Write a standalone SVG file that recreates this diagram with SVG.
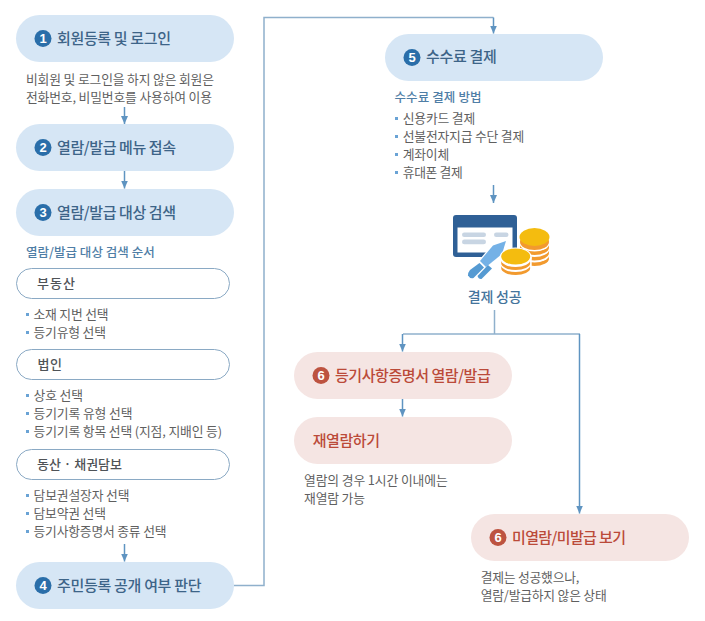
<svg xmlns="http://www.w3.org/2000/svg" width="705" height="621" viewBox="0 0 705 621">
<style>
text{font-family:"Noto Sans CJK KR","Noto Sans",sans-serif}
.pb{fill:#d6e6f5}.pr{fill:#f5e5e3}
.ol{fill:#fff;stroke:#8aa9c4;stroke-width:1}
.tb{font-size:15px;font-weight:500;fill:#3d6488}
.tr{font-size:15px;font-weight:500;fill:#bb4a39}
.ts{font-size:13px;font-weight:500;fill:#4f5357}
.sub{font-size:12.5px;font-weight:500;fill:#4f7ea6}
.d{font-size:12.800px;fill:#5f5f5f}
.bul{fill:#6aa3d5}
.nb{fill:#2a6ea9}.nr{fill:#bd5340}
.n{font-family:"Liberation Sans",sans-serif;font-size:13px;font-weight:700;fill:#fff;text-anchor:middle}
.c{fill:none;stroke:#8fb0cc;stroke-width:1.500}
.ca{fill:none;stroke:#5f94c1;stroke-width:1.500}
.co{fill:#f29a2e}.cw{fill:#fff}.cy{fill:#f4bc0f}
</style>
<defs>
<marker id="ah" markerUnits="userSpaceOnUse" markerWidth="9" markerHeight="7" refX="8" refY="3.500" orient="auto"><path d="M0 0L8 3.500L0 7z" fill="#5f94c1"/></marker>
</defs>
<g id="connectors">
<path class="ca" d="M124.500 107V124" marker-end="url(#ah)"/>
<path class="ca" d="M124.500 171V188.500" marker-end="url(#ah)"/>
<path class="ca" d="M124.500 544V561.500" marker-end="url(#ah)"/>
<path class="c" d="M234 585.500H264V17.500H493.500"/>
<path class="ca" d="M493.500 17.500V33.500" marker-end="url(#ah)"/>
<path class="ca" d="M493.500 185V203" marker-end="url(#ah)"/>
<path class="c" d="M494.500 310V334"/>
<path class="c" d="M403 334H580"/>
<path class="ca" d="M402.500 334V351.500" marker-end="url(#ah)"/>
<path class="ca" d="M402.500 399V416.500" marker-end="url(#ah)"/>
<path class="ca" d="M579.500 334V513.500" marker-end="url(#ah)"/>
</g>
<g id="node1"><rect class="pb" x="16" y="15" width="218" height="47" rx="23.500"/><circle class="nb" cx="43" cy="38.500" r="8.500"/><text class="n" x="43" y="43">1</text><text class="tb" x="57" y="43.500" textLength="114">회원등록 및 로그인</text>
<text class="d" x="26" y="84" textLength="188">비회원 및 로그인을 하지 않은 회원은</text><text class="d" x="26" y="102" textLength="186">전화번호, 비밀번호를 사용하여 이용</text></g>
<g id="node2"><rect class="pb" x="16" y="124" width="218" height="47" rx="23.500"/><circle class="nb" cx="43" cy="147.500" r="8.500"/><text class="n" x="43" y="152">2</text><text class="tb" x="57" y="152.500" textLength="119">열람/발급 메뉴 접속</text></g>
<g id="node3"><rect class="pb" x="16" y="189" width="218" height="47" rx="23.500"/><circle class="nb" cx="43" cy="212.500" r="8.500"/><text class="n" x="43" y="217">3</text><text class="tb" x="57" y="217.500" textLength="119">열람/발급 대상 검색</text>
<text class="sub" x="26" y="256.500" textLength="128.700">열람/발급 대상 검색 순서</text></g>
<g id="sub-realestate"><rect class="ol" x="16.500" y="268.500" width="213" height="30" rx="15"/><text class="ts" x="37" y="288" textLength="38">부동산</text>
<rect class="bul" x="26" y="313" width="3" height="3"/><text class="d" x="33.500" y="319" textLength="75">소재 지번 선택</text>
<rect class="bul" x="26" y="331" width="3" height="3"/><text class="d" x="33.500" y="337" textLength="72.500">등기유형 선택</text></g>
<g id="sub-corp"><rect class="ol" x="16.500" y="349.500" width="213" height="30" rx="15"/><text class="ts" x="37.500" y="369" textLength="24.500">법인</text>
<rect class="bul" x="26" y="394" width="3" height="3"/><text class="d" x="33.500" y="400" textLength="49.500">상호 선택</text>
<rect class="bul" x="26" y="412" width="3" height="3"/><text class="d" x="33.500" y="418" textLength="99">등기기록 유형 선택</text>
<rect class="bul" x="26" y="430" width="3" height="3"/><text class="d" x="33.500" y="436" textLength="188.500">등기기록 항목 선택 (지점, 지배인 등)</text></g>
<g id="sub-movable"><rect class="ol" x="16.500" y="449.500" width="213" height="30" rx="15"/><text class="ts" x="37" y="469" textLength="85">동산 · 채권담보</text>
<rect class="bul" x="26" y="494" width="3" height="3"/><text class="d" x="33.500" y="500" textLength="96">담보권설장자 선택</text>
<rect class="bul" x="26" y="512" width="3" height="3"/><text class="d" x="33.500" y="518" textLength="72.500">담보약권 선택</text>
<rect class="bul" x="26" y="530" width="3" height="3"/><text class="d" x="33.500" y="536" textLength="133">등기사항증명서 종류 선택</text></g>
<g id="node4"><rect class="pb" x="16" y="562" width="218" height="47" rx="23.500"/><circle class="nb" cx="43" cy="585.500" r="8.500"/><text class="n" x="43" y="590">4</text><text class="tb" x="57" y="590.500" textLength="144.500">주민등록 공개 여부 판단</text></g>
<g id="node5"><rect class="pb" x="385" y="34" width="218" height="47" rx="23.500"/><circle class="nb" cx="412" cy="57.500" r="8.500"/><text class="n" x="412" y="62">5</text><text class="tb" x="426" y="62" textLength="70.700">수수료 결제</text>
<text class="sub" x="394.500" y="101.500" textLength="87">수수료 결제 방법</text>
<rect class="bul" x="395" y="117" width="3" height="3"/><text class="d" x="402.700" y="123" textLength="72.500">신용카드 결제</text>
<rect class="bul" x="395" y="135" width="3" height="3"/><text class="d" x="402.700" y="141" textLength="121.500">선불전자지급 수단 결제</text>
<rect class="bul" x="395" y="153" width="3" height="3"/><text class="d" x="402.700" y="159" textLength="46.500">계좌이체</text>
<rect class="bul" x="395" y="171" width="3" height="3"/><text class="d" x="402.700" y="177" textLength="60">휴대폰 결제</text></g>
<g id="payment-success">
<rect x="453" y="215" width="64" height="42" rx="3" fill="#2f6096"/>
<rect x="457.500" y="227.500" width="55" height="25" fill="#fff"/>
<rect x="462" y="232.500" width="24" height="4.500" rx="2.200" fill="#c8d5e3"/><rect x="494" y="232.500" width="14.500" height="4.500" rx="2.200" fill="#c8d5e3"/><rect x="462" y="239.500" width="24" height="4.800" rx="2.400" fill="#c8d5e3"/>
<path d="M506 241L493 245.500L480 261L486 267L502 254z" fill="#74b1e6" stroke="#fff" stroke-width="2.500" paint-order="stroke"/>
<path d="M479.500 263L484 267.500L473.500 278Q470 279 468 275.500Q467.500 273 470 270z" fill="#559ad2" stroke="#fff" stroke-width="1.500" paint-order="stroke"/>
<path d="M488 265L492 268.500L481.500 279Q478.500 279.500 477.500 276z" fill="#559ad2"/>
<g id="coins-back"><ellipse class="co" cx="534.500" cy="258.500" rx="14.500" ry="7.500"/><ellipse class="cw" cx="534.500" cy="255" rx="14.500" ry="7.500"/><ellipse class="co" cx="534.500" cy="253" rx="14.500" ry="7.500"/><ellipse class="cw" cx="534.500" cy="249.500" rx="14.500" ry="7.500"/><ellipse class="co" cx="534.500" cy="247.500" rx="14.500" ry="7.500"/><ellipse class="cw" cx="534.500" cy="244" rx="14.500" ry="7.500"/><ellipse class="co" cx="534.500" cy="242" rx="14.500" ry="8"/><ellipse class="cy" cx="534.500" cy="237" rx="15" ry="9"/></g>
<g id="coins-front"><ellipse cx="515.700" cy="257" rx="16" ry="9.500" fill="#fff"/><rect x="499.700" y="257" width="32" height="19" fill="#fff"/><ellipse class="co" cx="515.700" cy="268" rx="14.500" ry="7"/><ellipse class="cw" cx="515.700" cy="265" rx="14.500" ry="7"/><ellipse class="co" cx="515.700" cy="263" rx="14.500" ry="7"/><ellipse class="cw" cx="515.700" cy="260" rx="14.500" ry="7"/><ellipse class="cy" cx="515.700" cy="256.500" rx="14.500" ry="8"/></g>
<text x="494.700" y="302" text-anchor="middle" textLength="54" style="font-size:14px;font-weight:500;fill:#44749c">결제 성공</text></g>
<g id="node6a"><rect class="pr" x="294" y="352" width="218" height="47" rx="23.500"/><circle class="nr" cx="321" cy="375.500" r="8.500"/><text class="n" x="321" y="380">6</text><text class="tr" x="335" y="380.500" textLength="155.700">등기사항증명서 열람/발급</text></g>
<g id="node-reopen"><rect class="pr" x="294" y="417" width="218" height="47" rx="23.500"/><text class="tr" x="312.700" y="445.500" textLength="67.300">재열람하기</text>
<text class="d" x="304" y="485" textLength="143.700">열람의 경우 1시간 이내에는</text><text class="d" x="304" y="503" textLength="61">재열람 가능</text></g>
<g id="node6b"><rect class="pr" x="471" y="514" width="218" height="47" rx="23.500"/><circle class="nr" cx="498" cy="537.500" r="8.500"/><text class="n" x="498" y="542">6</text><text class="tr" x="512" y="542.500" textLength="114">미열람/미발급 보기</text>
<text class="d" x="480.700" y="582" textLength="98.600">결제는 성공했으나,</text><text class="d" x="480.700" y="600" textLength="126">열람/발급하지 않은 상태</text></g>
</svg>
